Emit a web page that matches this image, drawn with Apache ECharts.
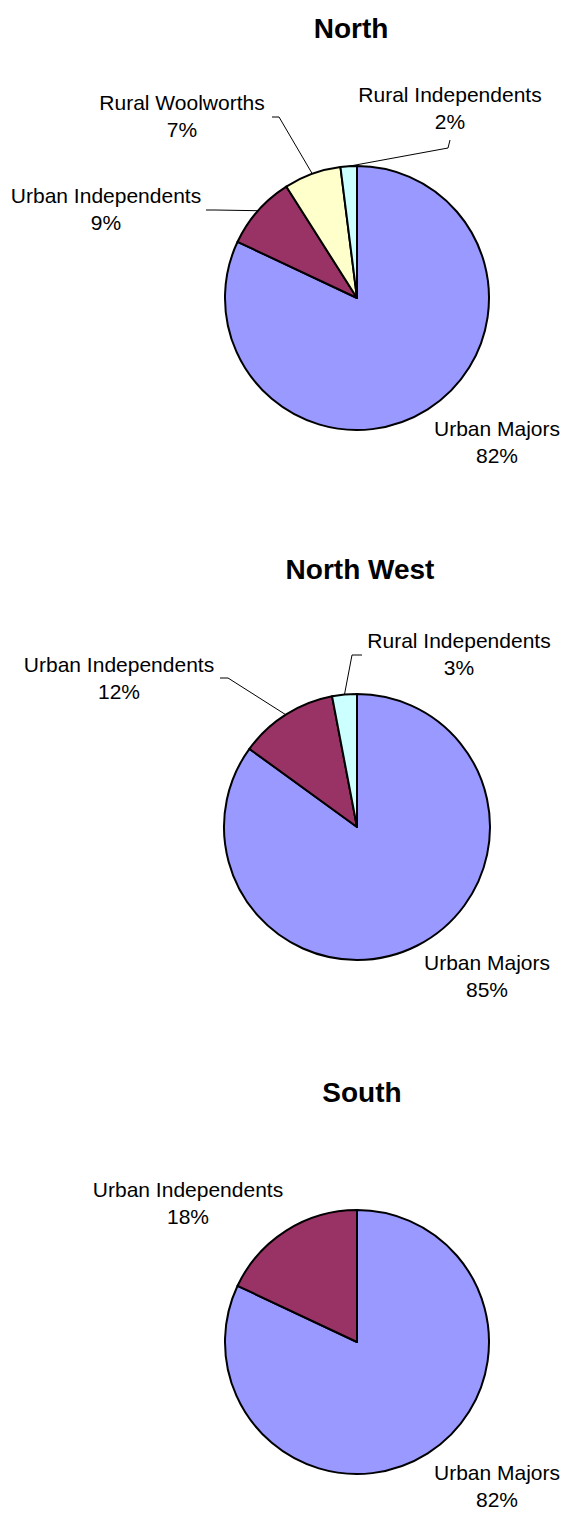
<!DOCTYPE html>
<html><head><meta charset="utf-8">
<script src="https://cdn.jsdelivr.net/npm/echarts@6/dist/echarts.min.js"></script>
<style>html,body{margin:0;padding:0;background:#fff}#c{width:564px;height:1519px}</style>
</head><body><div id="c"></div>
<script>
// ---- data ----
const categories = ['Urban Majors', 'Urban Independents', 'Rural Woolworths', 'Rural Independents'];
const regions = ['North', 'North West', 'South'];
const northValues = [82, 9, 7, 2];
const northWestValues = [85, 12, 0, 3];
const southValues = [82, 18, 0, 0];
const sliceColors = ['#9999FF', '#993366', '#FFFFCC', '#CCFFFF'];

// ---- layout (pixel positions, styles) ----
const FONT = 'Liberation Sans, Arial, sans-serif';
const pieLayout = [
  { center: [357, 298], r: 132, title: [351, 14],
    labels: {
      'Urban Majors': { x: 497, y: 415 },
      'Urban Independents': { x: 106, y: 182, line: [[215, 210], [206, 210]] },
      'Rural Woolworths': { x: 182, y: 89, line: [[279, 117], [272, 117]] },
      'Rural Independents': { x: 450, y: 81, line: [[448, 148], [450, 140]] }
    } },
  { center: [357, 827], r: 133, title: [360, 555],
    labels: {
      'Urban Majors': { x: 487, y: 949 },
      'Urban Independents': { x: 119, y: 651, line: [[228, 678], [220, 678]] },
      'Rural Independents': { x: 459, y: 627, line: [[352, 655], [362, 655]] }
    } },
  { center: [357, 1342], r: 132, title: [362, 1078],
    labels: {
      'Urban Majors': { x: 497, y: 1459 },
      'Urban Independents': { x: 188, y: 1176 }
    } }
];

const valueSets = [northValues, northWestValues, southValues];

const chart = echarts.init(document.getElementById('c'), null, { renderer: 'svg', width: 564, height: 1519 });

const series = valueSets.map((vals, si) => {
  const L = pieLayout[si];
  const data = categories
    .map((c, i) => ({
      name: c, value: vals[i],
      itemStyle: { color: sliceColors[i] },
      labelLine: { show: !!(L.labels[c] && L.labels[c].line) }
    }))
    .filter(d => d.value > 0);
  const names = data.map(d => d.name);
  return {
    type: 'pie',
    center: L.center,
    radius: L.r,
    startAngle: 90,
    clockwise: true,
    avoidLabelOverlap: false,
    animation: false,
    percentPrecision: 0,
    emphasis: { disabled: true },
    itemStyle: { borderColor: '#000', borderWidth: 2 },
    label: {
      show: true, position: 'outside', formatter: '{b}\n{d}%',
      fontFamily: FONT, fontSize: 21, lineHeight: 27, color: '#000', align: 'center'
    },
    labelLine: { show: true, length: 10, length2: 10, lineStyle: { color: '#000', width: 1 } },
    data: data,
    labelLayout: function (p) {
      const lab = L.labels[names[p.dataIndex]];
      const out = { x: lab.x, y: lab.y, align: 'center', verticalAlign: 'top' };
      if (lab.line && p.labelLinePoints) {
        out.labelLinePoints = [p.labelLinePoints[0]].concat(lab.line);
      }
      return out;
    }
  };
});

chart.setOption({
  backgroundColor: '#fff',
  animation: false,
  title: regions.map((t, i) => ({
    text: t, left: pieLayout[i].title[0], top: pieLayout[i].title[1],
    textAlign: 'center', padding: 0,
    textStyle: { fontFamily: FONT, fontSize: 28, fontWeight: 'bold', color: '#000', lineHeight: 28 }
  })),
  series: series
});
</script>
</body></html>
